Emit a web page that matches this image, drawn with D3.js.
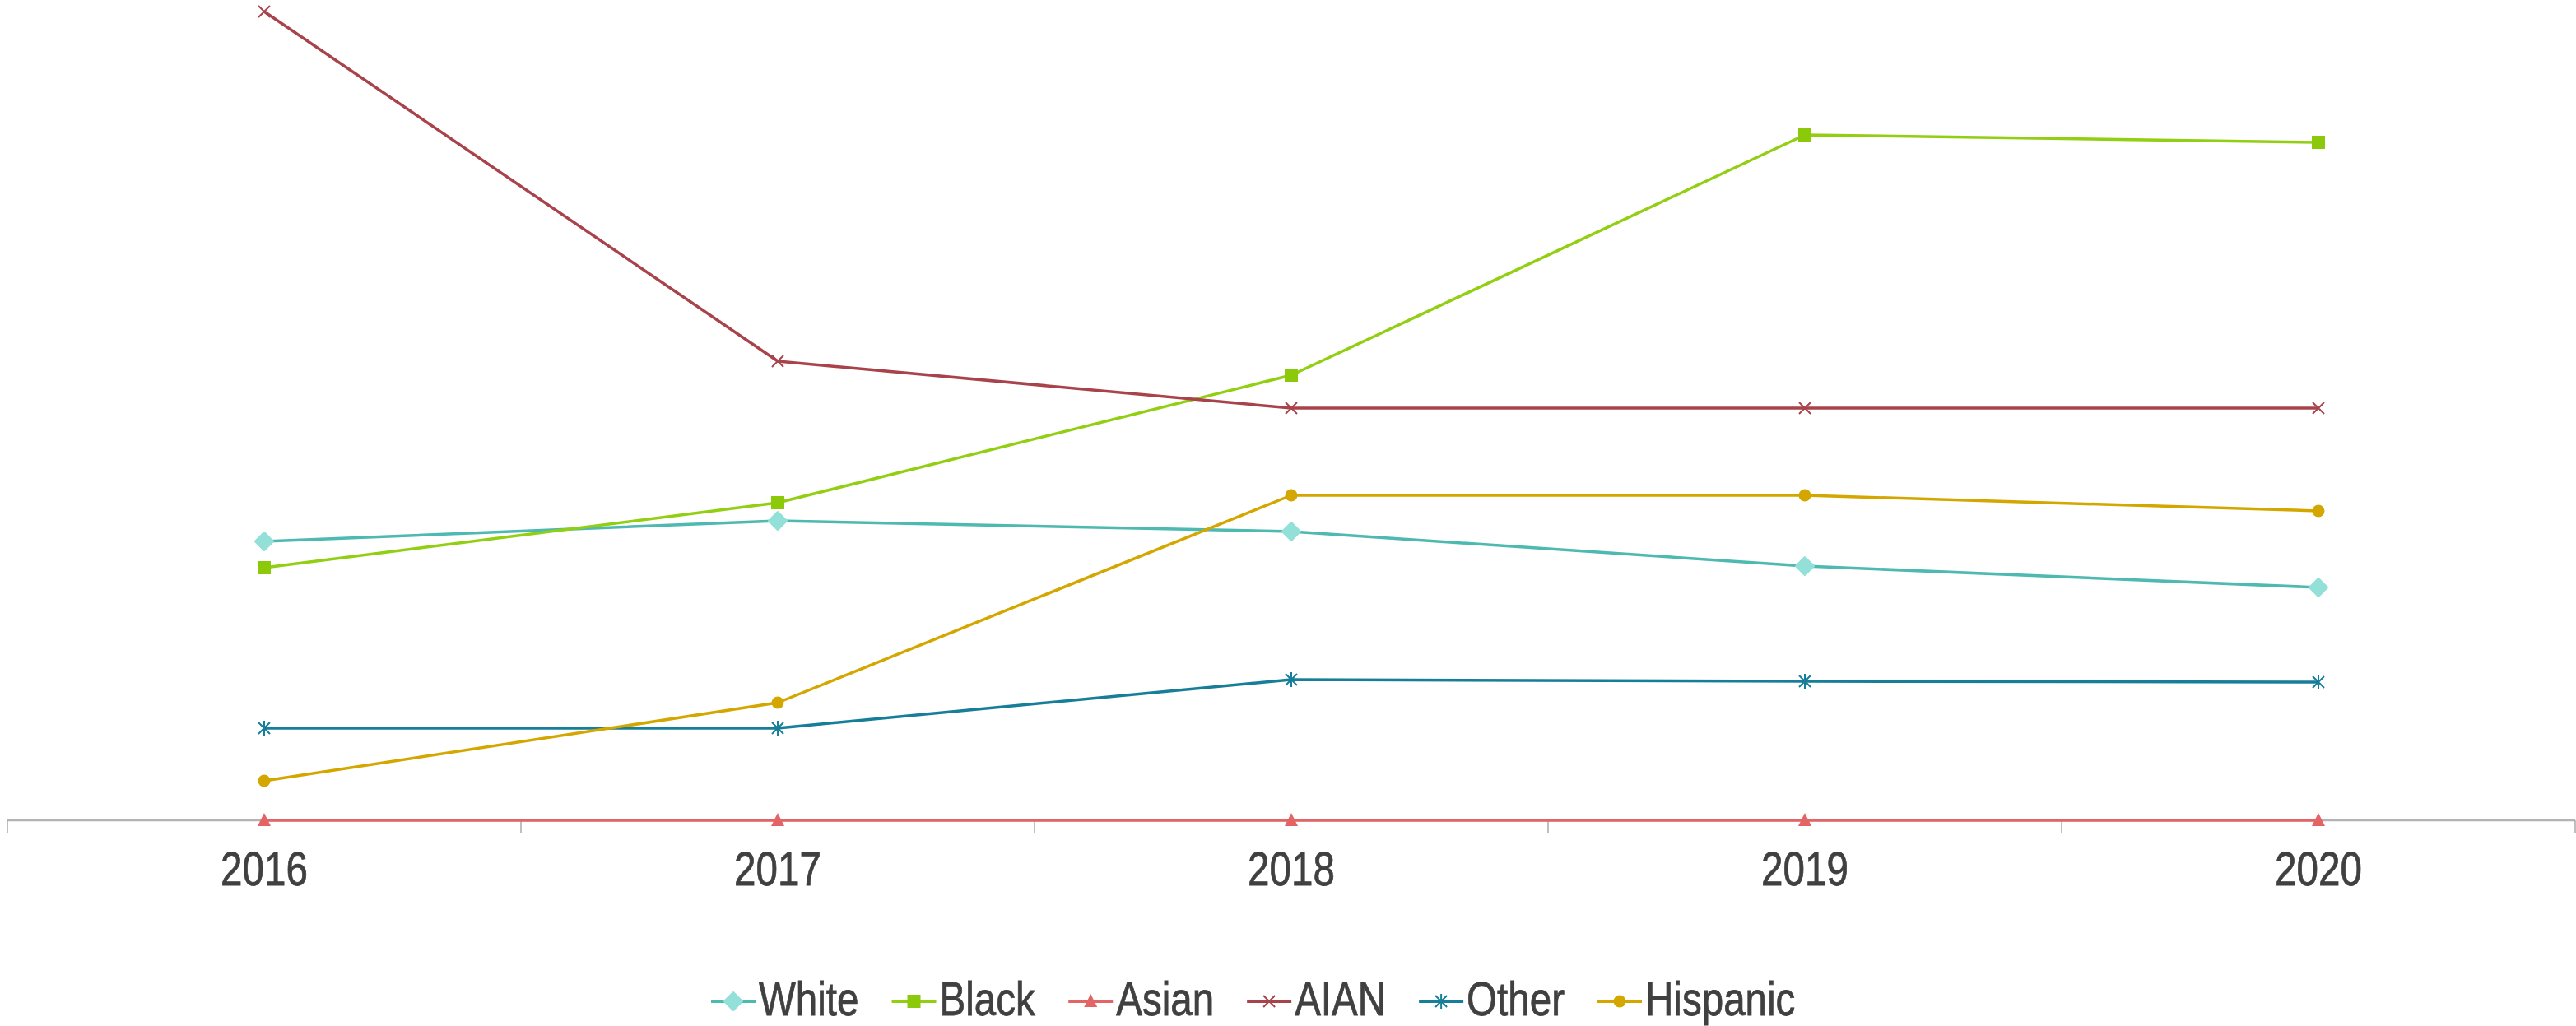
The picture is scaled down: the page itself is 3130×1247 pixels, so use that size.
<!DOCTYPE html>
<html><head><meta charset="utf-8">
<script src="https://cdn.jsdelivr.net/npm/d3@7/dist/d3.min.js"></script>
<style>html,body{margin:0;padding:0;background:#fff;}svg{display:block;}</style>
</head><body>
<script>
const years = ["2016","2017","2018","2019","2020"];
const white    = [33.9, 36.4, 35.1, 30.9, 28.3];
const black    = [30.7, 38.6, 54.1, 83.3, 82.4];
const asian    = [0, 0, 0, 0, 0];
const aian     = [98.3, 55.8, 50.1, 50.1, 50.1];
const other    = [11.2, 11.2, 17.1, 16.9, 16.8];
const hispanic = [4.8, 14.3, 39.5, 39.5, 37.6];
const seriesNames = ["White","Black","Asian","AIAN","Other","Hispanic"];

const series = [
  {name:seriesNames[0], values:white, line:"#4DB9B0", fill:"#93E0D9", shape:"diamond"},
  {name:seriesNames[1], values:black, line:"#92CF12", fill:"#8DC90B", shape:"square"},
  {name:seriesNames[2], values:asian, line:"#E36464", fill:"#E36464", shape:"triangle"},
  {name:seriesNames[3], values:aian, line:"#A9434B", fill:"#A9434B", shape:"x"},
  {name:seriesNames[4], values:other, line:"#177E99", fill:"#177E99", shape:"star"},
  {name:seriesNames[5], values:hispanic, line:"#D4A700", fill:"#D4A700", shape:"circle"}
];

const W = 3130, H = 1247;
const svg = d3.select("body").append("svg").attr("width", W).attr("height", H);

const x = d3.scaleBand().domain(years).range([9, 3129]);
const y = d3.scaleLinear().domain([0, 98.3]).range([997, 14]);
const cx = d => x(d) + x.bandwidth()/2;

const FONT = "'Liberation Sans', Arial, sans-serif";
const TEXTCOL = "#404040";
const SX = 0.82;

// axis
const axisG = svg.append("g");
axisG.append("line").attr("x1", x.range()[0]).attr("x2", x.range()[1])
  .attr("y1", y(0)).attr("y2", y(0)).attr("stroke", "#b4b4b4").attr("stroke-width", 2.5);
const bounds = years.map(d => x(d)).concat([x.range()[1]]);
axisG.selectAll("line.tick").data(bounds).join("line").attr("class","tick")
  .attr("x1", d => d).attr("x2", d => d).attr("y1", y(0)).attr("y2", y(0) + 15)
  .attr("stroke", "#aaaaaa").attr("stroke-width", 1.5);
axisG.selectAll("text").data(years).join("text")
  .attr("transform", d => `translate(${cx(d)},1076) scale(${SX},1)`)
  .attr("text-anchor", "middle").attr("font-family", FONT).attr("font-size", 58)
  .attr("fill", TEXTCOL).attr("stroke", TEXTCOL).attr("stroke-width", 0.8).text(d => d);

function drawMarker(g, shape, s) {
  if (shape === "diamond") {
    const r = 10.5;
    g.append("path").attr("d", `M0,${-r} L${r},0 L0,${r} L${-r},0 Z`)
      .attr("fill", s.fill).attr("stroke", s.fill).attr("stroke-width", 3).attr("stroke-linejoin", "round");
  } else if (shape === "square") {
    g.append("rect").attr("x", -8).attr("y", -8).attr("width", 16).attr("height", 16).attr("fill", s.fill);
  } else if (shape === "triangle") {
    g.append("path").attr("d", "M0,-9 L8,7 L-8,7 Z").attr("fill", s.fill);
  } else if (shape === "x") {
    g.append("path").attr("d", "M-7,-7 L7,7 M-7,7 L7,-7").attr("stroke", s.fill).attr("stroke-width", 2).attr("fill", "none");
  } else if (shape === "star") {
    g.append("path").attr("d", "M-7,-7 L7,7 M-7,7 L7,-7 M0,-9 L0,9").attr("stroke", s.fill).attr("stroke-width", 2).attr("fill", "none");
  } else if (shape === "circle") {
    g.append("circle").attr("r", 7.5).attr("fill", s.fill);
  }
}

const line = d3.line().x((d,i) => cx(years[i])).y(d => y(d));
series.forEach(s => {
  const g = svg.append("g");
  g.append("path").attr("d", line(s.values)).attr("fill", "none")
    .attr("stroke", s.line).attr("stroke-width", 3.5).attr("stroke-linejoin", "round");
  s.values.forEach((v,i) => {
    const mg = g.append("g").attr("transform", `translate(${cx(years[i])},${y(v)})`);
    drawMarker(mg, s.shape, s);
  });
});

// legend
const leg = svg.append("g");
let lx = 864;
const ly = 1217;
const lbase = 1234;
series.forEach(s => {
  const g = leg.append("g");
  g.append("line").attr("x1", lx).attr("x2", lx + 54).attr("y1", ly).attr("y2", ly)
    .attr("stroke", s.line).attr("stroke-width", 4);
  const mg = g.append("g").attr("transform", `translate(${lx + 27},${ly})`);
  drawMarker(mg, s.shape, s);
  const t = g.append("text").attr("transform", `translate(${lx + 58},${lbase}) scale(${SX},1)`)
    .attr("font-family", FONT).attr("font-size", 58).attr("fill", TEXTCOL)
    .attr("stroke", TEXTCOL).attr("stroke-width", 0.8).text(s.name);
  const w = t.node().getBBox().width * SX;
  lx += 58 + w + 40;
});
</script>
</body></html>
